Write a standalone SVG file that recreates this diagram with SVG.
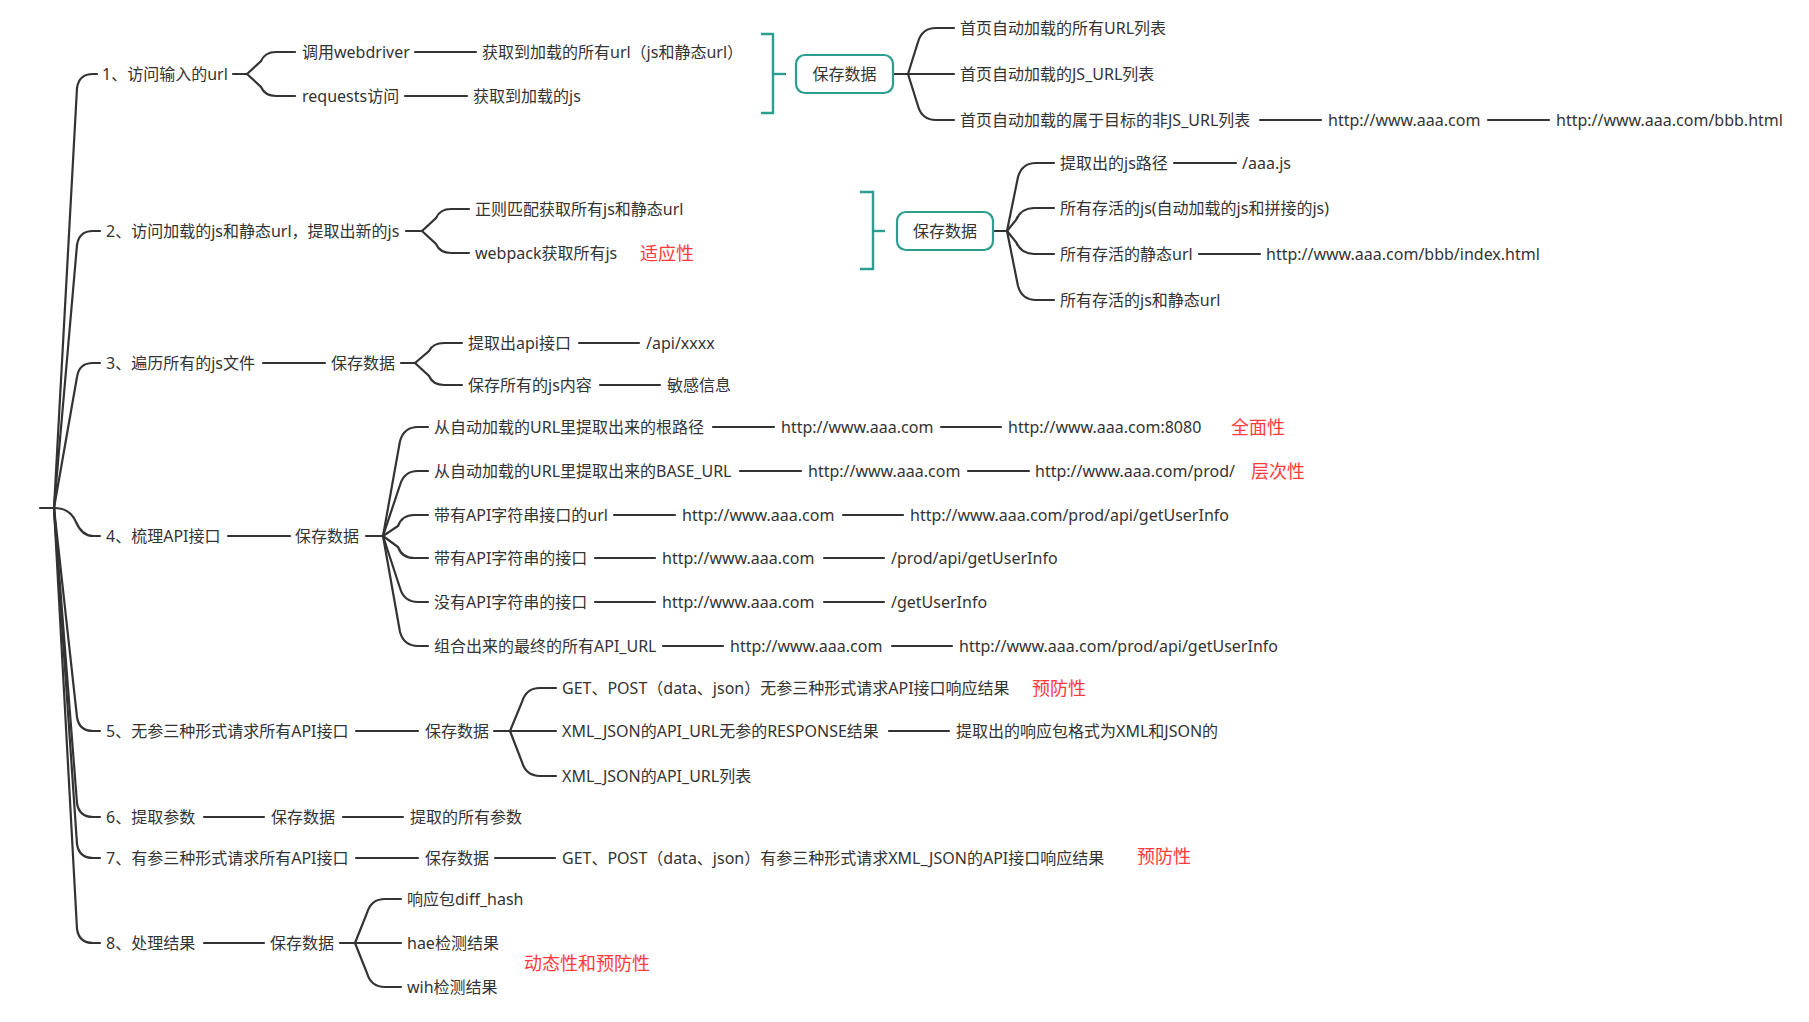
<svg xmlns="http://www.w3.org/2000/svg" width="1809" height="1022" viewBox="0 0 1809 1022">
<style>
text{font-family:"Noto Sans","Noto Sans CJK SC",sans-serif;font-size:16px;fill:#333;dominant-baseline:central}
.red{fill:#ff3a3a;font-size:18px}
.box{fill:#fff;stroke:#2a9f8f;stroke-width:2.2}
.br{fill:none;stroke:#2a9f8f;stroke-width:2.4}
#connectors path{fill:none;stroke:#333;stroke-width:2.2;stroke-linecap:round}
.mid{text-anchor:middle}
</style>
<rect width="1809" height="1022" fill="#fff"/>
<g id="connectors">
<!-- root trunk -->
<path d="M40 508 L54 508"/>
<path d="M54 508 L77 88 Q79 74 93 74 L97 74"/>
<path d="M54 508 L77 245 Q79 231 93 231 L100 231"/>
<path d="M54 508 L77 377 Q79 363 93 363 L100 363"/>
<path d="M54 508 Q70 508 76 522 Q82 536 93 536 L100 536"/>
<path d="M54 508 L77 717 Q79 731 93 731 L100 731"/>
<path d="M54 508 L77 803 Q79 817 93 817 L100 817"/>
<path d="M54 508 L77 844 Q79 858 93 858 L100 858"/>
<path d="M54 508 L77 929 Q79 943 93 943 L100 943"/>
<!-- row 1 -->
<path d="M233 74 L247 74"/>
<path d="M247 74 L261 61 Q265 52 276 52 L295 52"/>
<path d="M247 74 L261 87 Q265 96 276 96 L295 96"/>
<path d="M415 52 L476 52"/>
<path d="M405 96 L467 96"/>
<path d="M785 74 L773 74"/>
<path d="M893 74 L908 74"/>
<path d="M908 74 L918 42 Q922 28 936 28 L954 28"/>
<path d="M908 74 L954 74"/>
<path d="M908 74 L918 106 Q922 120 936 120 L954 120"/>
<path d="M1260 120 L1321 120"/>
<path d="M1488 120 L1549 120"/>
<!-- row 2 -->
<path d="M406 231 L422 231"/>
<path d="M422 231 L436 218 Q440 209 451 209 L469 209"/>
<path d="M422 231 L436 244 Q440 253 451 253 L469 253"/>
<path d="M993 231 L1007 231"/>
<path d="M1007 231 L1018 177 Q1022 163 1036 163 L1054 163"/>
<path d="M1007 231 L1016 220 Q1021 208 1034 208 L1054 208"/>
<path d="M1007 231 L1016 242 Q1021 254 1034 254 L1054 254"/>
<path d="M1007 231 L1018 286 Q1022 300 1036 300 L1054 300"/>
<path d="M1174 163 L1236 163"/>
<path d="M1199 254 L1260 254"/>
<!-- row 3 -->
<path d="M263 363 L325 363"/>
<path d="M401 363 L415 363"/>
<path d="M415 363 L429 351 Q433 343 444 343 L462 343"/>
<path d="M415 363 L429 376 Q433 385 444 385 L462 385"/>
<path d="M579 343 L639 343"/>
<path d="M600 385 L660 385"/>
<!-- row 4 -->
<path d="M228 536 L290 536"/>
<path d="M366 536 L383 536"/>
<path d="M383 536 L400 441 Q404 427 418 427 L428 427"/>
<path d="M383 536 L400 485 Q404 471 418 471 L428 471"/>
<path d="M383 536 L398 526 Q402 515 414 515 L428 515"/>
<path d="M383 536 L398 547 Q402 558 414 558 L428 558"/>
<path d="M383 536 L400 588 Q404 602 418 602 L428 602"/>
<path d="M383 536 L400 632 Q404 646 418 646 L428 646"/>
<path d="M713 427 L774 427"/>
<path d="M941 427 L1001 427"/>
<path d="M740 471 L801 471"/>
<path d="M968 471 L1029 471"/>
<path d="M614 515 L675 515"/>
<path d="M843 515 L903 515"/>
<path d="M595 558 L655 558"/>
<path d="M824 558 L884 558"/>
<path d="M595 602 L655 602"/>
<path d="M824 602 L884 602"/>
<path d="M663 646 L723 646"/>
<path d="M892 646 L952 646"/>
<!-- row 5 -->
<path d="M356 731 L418 731"/>
<path d="M494 731 L510 731"/>
<path d="M510 731 L522 702 Q526 688 540 688 L556 688"/>
<path d="M510 731 L556 731"/>
<path d="M510 731 L522 762 Q526 776 540 776 L556 776"/>
<path d="M889 731 L949 731"/>
<!-- row 6 -->
<path d="M204 817 L264 817"/>
<path d="M343 817 L403 817"/>
<!-- row 7 -->
<path d="M356 858 L418 858"/>
<path d="M495 858 L555 858"/>
<!-- row 8 -->
<path d="M204 943 L264 943"/>
<path d="M340 943 L355 943"/>
<path d="M355 943 L367 913 Q371 899 385 899 L401 899"/>
<path d="M355 943 L401 943"/>
<path d="M355 943 L367 973 Q371 987 385 987 L401 987"/>
</g>
<g id="root"/>
<g id="n1"><text x="102" y="74">1、访问输入的url</text></g>
<g id="n1a"><text x="302" y="52">调用webdriver</text></g>
<g id="n1a1"><text x="482" y="52">获取到加载的所有url（js和静态url）</text></g>
<g id="n1b"><text x="302" y="96">requests访问</text></g>
<g id="n1b1"><text x="473" y="96">获取到加载的js</text></g>
<g id="bracket1"><path class="br" d="M761 34 L773 34 L773 113 L761 113"/><path class="br" d="M773 74 L785 74"/></g>
<g id="save1"><rect class="box" x="796" y="55" width="97" height="38" rx="9"/><text class="mid" x="844.5" y="74">保存数据</text></g>
<g id="s1a"><text x="960" y="28">首页自动加载的所有URL列表</text></g>
<g id="s1b"><text x="960" y="74">首页自动加载的JS_URL列表</text></g>
<g id="s1c"><text x="960" y="120">首页自动加载的属于目标的非JS_URL列表</text></g>
<g id="s1c1"><text x="1328" y="120">http://www.aaa.com</text></g>
<g id="s1c2"><text x="1556" y="120">http://www.aaa.com/bbb.html</text></g>

<g id="n2"><text x="106" y="231">2、访问加载的js和静态url，提取出新的js</text></g>
<g id="n2a"><text x="475" y="209">正则匹配获取所有js和静态url</text></g>
<g id="n2b"><text x="475" y="253">webpack获取所有js</text><text class="red" x="640" y="253">适应性</text></g>
<g id="bracket2"><path class="br" d="M860 192 L873 192 L873 269 L860 269"/><path class="br" d="M873 231 L885 231"/></g>
<g id="save2"><rect class="box" x="897" y="212" width="96" height="38" rx="9"/><text class="mid" x="945" y="231">保存数据</text></g>
<g id="s2a"><text x="1060" y="163">提取出的js路径</text></g>
<g id="s2a1"><text x="1242" y="163">/aaa.js</text></g>
<g id="s2b"><text x="1060" y="208">所有存活的js(自动加载的js和拼接的js)</text></g>
<g id="s2c"><text x="1060" y="254">所有存活的静态url</text></g>
<g id="s2c1"><text x="1266" y="254">http://www.aaa.com/bbb/index.html</text></g>
<g id="s2d"><text x="1060" y="300">所有存活的js和静态url</text></g>

<g id="n3"><text x="106" y="363">3、遍历所有的js文件</text></g>
<g id="n3s"><text x="331" y="363">保存数据</text></g>
<g id="n3a"><text x="468" y="343">提取出api接口</text></g>
<g id="n3a1"><text x="646" y="343">/api/xxxx</text></g>
<g id="n3b"><text x="468" y="385">保存所有的js内容</text></g>
<g id="n3b1"><text x="667" y="385">敏感信息</text></g>

<g id="n4"><text x="106" y="536">4、梳理API接口</text></g>
<g id="n4s"><text x="295" y="536">保存数据</text></g>
<g id="n4a"><text x="434" y="427">从自动加载的URL里提取出来的根路径</text></g>
<g id="n4a1"><text x="781" y="427">http://www.aaa.com</text></g>
<g id="n4a2"><text x="1008" y="427">http://www.aaa.com:8080</text><text class="red" x="1231" y="427">全面性</text></g>
<g id="n4b"><text x="434" y="471">从自动加载的URL里提取出来的BASE_URL</text></g>
<g id="n4b1"><text x="808" y="471">http://www.aaa.com</text></g>
<g id="n4b2"><text x="1035" y="471">http://www.aaa.com/prod/</text><text class="red" x="1251" y="471">层次性</text></g>
<g id="n4c"><text x="434" y="515">带有API字符串接口的url</text></g>
<g id="n4c1"><text x="682" y="515">http://www.aaa.com</text></g>
<g id="n4c2"><text x="910" y="515">http://www.aaa.com/prod/api/getUserInfo</text></g>
<g id="n4d"><text x="434" y="558">带有API字符串的接口</text></g>
<g id="n4d1"><text x="662" y="558">http://www.aaa.com</text></g>
<g id="n4d2"><text x="891" y="558">/prod/api/getUserInfo</text></g>
<g id="n4e"><text x="434" y="602">没有API字符串的接口</text></g>
<g id="n4e1"><text x="662" y="602">http://www.aaa.com</text></g>
<g id="n4e2"><text x="891" y="602">/getUserInfo</text></g>
<g id="n4f"><text x="434" y="646">组合出来的最终的所有API_URL</text></g>
<g id="n4f1"><text x="730" y="646">http://www.aaa.com</text></g>
<g id="n4f2"><text x="959" y="646">http://www.aaa.com/prod/api/getUserInfo</text></g>

<g id="n5"><text x="106" y="731">5、无参三种形式请求所有API接口</text></g>
<g id="n5s"><text x="425" y="731">保存数据</text></g>
<g id="n5a"><text x="562" y="688">GET、POST（data、json）无参三种形式请求API接口响应结果</text><text class="red" x="1032" y="688">预防性</text></g>
<g id="n5b"><text x="562" y="731">XML_JSON的API_URL无参的RESPONSE结果</text></g>
<g id="n5b1"><text x="956" y="731">提取出的响应包格式为XML和JSON的</text></g>
<g id="n5c"><text x="562" y="776">XML_JSON的API_URL列表</text></g>

<g id="n6"><text x="106" y="817">6、提取参数</text></g>
<g id="n6s"><text x="271" y="817">保存数据</text></g>
<g id="n6a"><text x="410" y="817">提取的所有参数</text></g>

<g id="n7"><text x="106" y="858">7、有参三种形式请求所有API接口</text></g>
<g id="n7s"><text x="425" y="858">保存数据</text></g>
<g id="n7a"><text x="562" y="858">GET、POST（data、json）有参三种形式请求XML_JSON的API接口响应结果</text><text class="red" x="1137" y="856">预防性</text></g>

<g id="n8"><text x="106" y="943">8、处理结果</text></g>
<g id="n8s"><text x="270" y="943">保存数据</text></g>
<g id="n8a"><text x="407" y="899">响应包diff_hash</text></g>
<g id="n8b"><text x="407" y="943">hae检测结果</text></g>
<g id="n8c"><text x="407" y="987">wih检测结果</text></g>
<g id="n8r"><text class="red" x="524" y="963">动态性和预防性</text></g>
</svg>
